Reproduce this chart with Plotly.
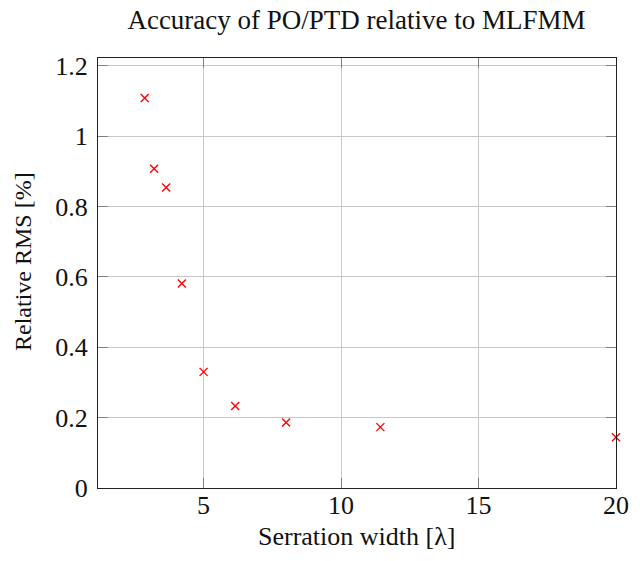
import plotly.graph_objects as go

serration_width = [2.86, 3.2, 3.64, 4.21, 5.0, 6.15, 8.0, 11.43, 20.0]
relative_rms = [1.108, 0.907, 0.854, 0.581, 0.330, 0.233, 0.186, 0.173, 0.144]

x_ticks = [5, 10, 15, 20]
y_ticks = [0, 0.2, 0.4, 0.6, 0.8, 1.0, 1.2]
y_tick_text = ["0", "0.2", "0.4", "0.6", "0.8", "1", "1.2"]

title_text = "Accuracy of PO/PTD relative to MLFMM"
x_title = "Serration width [λ]"
y_title = "Relative RMS [%]"

W, H = 642, 561
L, R, T, B = 98, 26, 58, 73

fig = go.Figure()
fig.add_trace(go.Scatter(
    x=serration_width, y=relative_rms, mode="markers",
    marker=dict(symbol="x-thin", size=8, color="#ff0000",
                line=dict(color="#ff0000", width=1.4)),
    showlegend=False, cliponaxis=False, hoverinfo="skip",
))

font_family = "Liberation Serif"
axis_common = dict(
    showline=True, linecolor="#222222", linewidth=1.2, mirror="ticks",
    ticks="inside", ticklen=10, tickcolor="#808080", tickwidth=1.2,
    showgrid=True, gridcolor="#c8c8c8", gridwidth=1,
    zeroline=False,
    tickfont=dict(family=font_family, size=26, color="#111111"),
)

fig.update_xaxes(range=[1.16, 20.0], tickvals=x_ticks,
                 ticktext=[str(v) for v in x_ticks],
                 ticklabelstandoff=-6, **axis_common)
fig.update_yaxes(range=[0, 1.222], tickvals=y_ticks, ticktext=y_tick_text,
                 ticklabelstandoff=4, **axis_common)

fig.update_layout(
    width=W, height=H,
    margin=dict(l=L, r=R, t=T, b=B, autoexpand=False),
    paper_bgcolor="white", plot_bgcolor="white",
    font=dict(family=font_family, color="#111111"),
    title=dict(text=title_text, x=(126 + 587) / 2 / W, xanchor="center",
               xref="container", yref="container",
               y=1 - 20 / H, yanchor="middle",
               font=dict(family=font_family, size=27, color="#111111")),
    annotations=[
        dict(text=x_title, xref="paper", yref="paper", x=(356.5 - L) / 518,
             y=-(536 - 488) / 430,
             xanchor="center", yanchor="middle", showarrow=False,
             font=dict(family=font_family, size=26, color="#111111")),
        dict(text=y_title, xref="paper", yref="paper",
             x=-(98 - 23) / 518, y=(488 - 262) / 430, textangle=-90,
             xanchor="center", yanchor="middle", showarrow=False,
             font=dict(family=font_family, size=24, color="#111111")),
    ],
)

fig.write_html("out.html", config={"displayModeBar": False},
               post_script="document.body.style.margin='0';document.body.style.overflow='hidden';")
